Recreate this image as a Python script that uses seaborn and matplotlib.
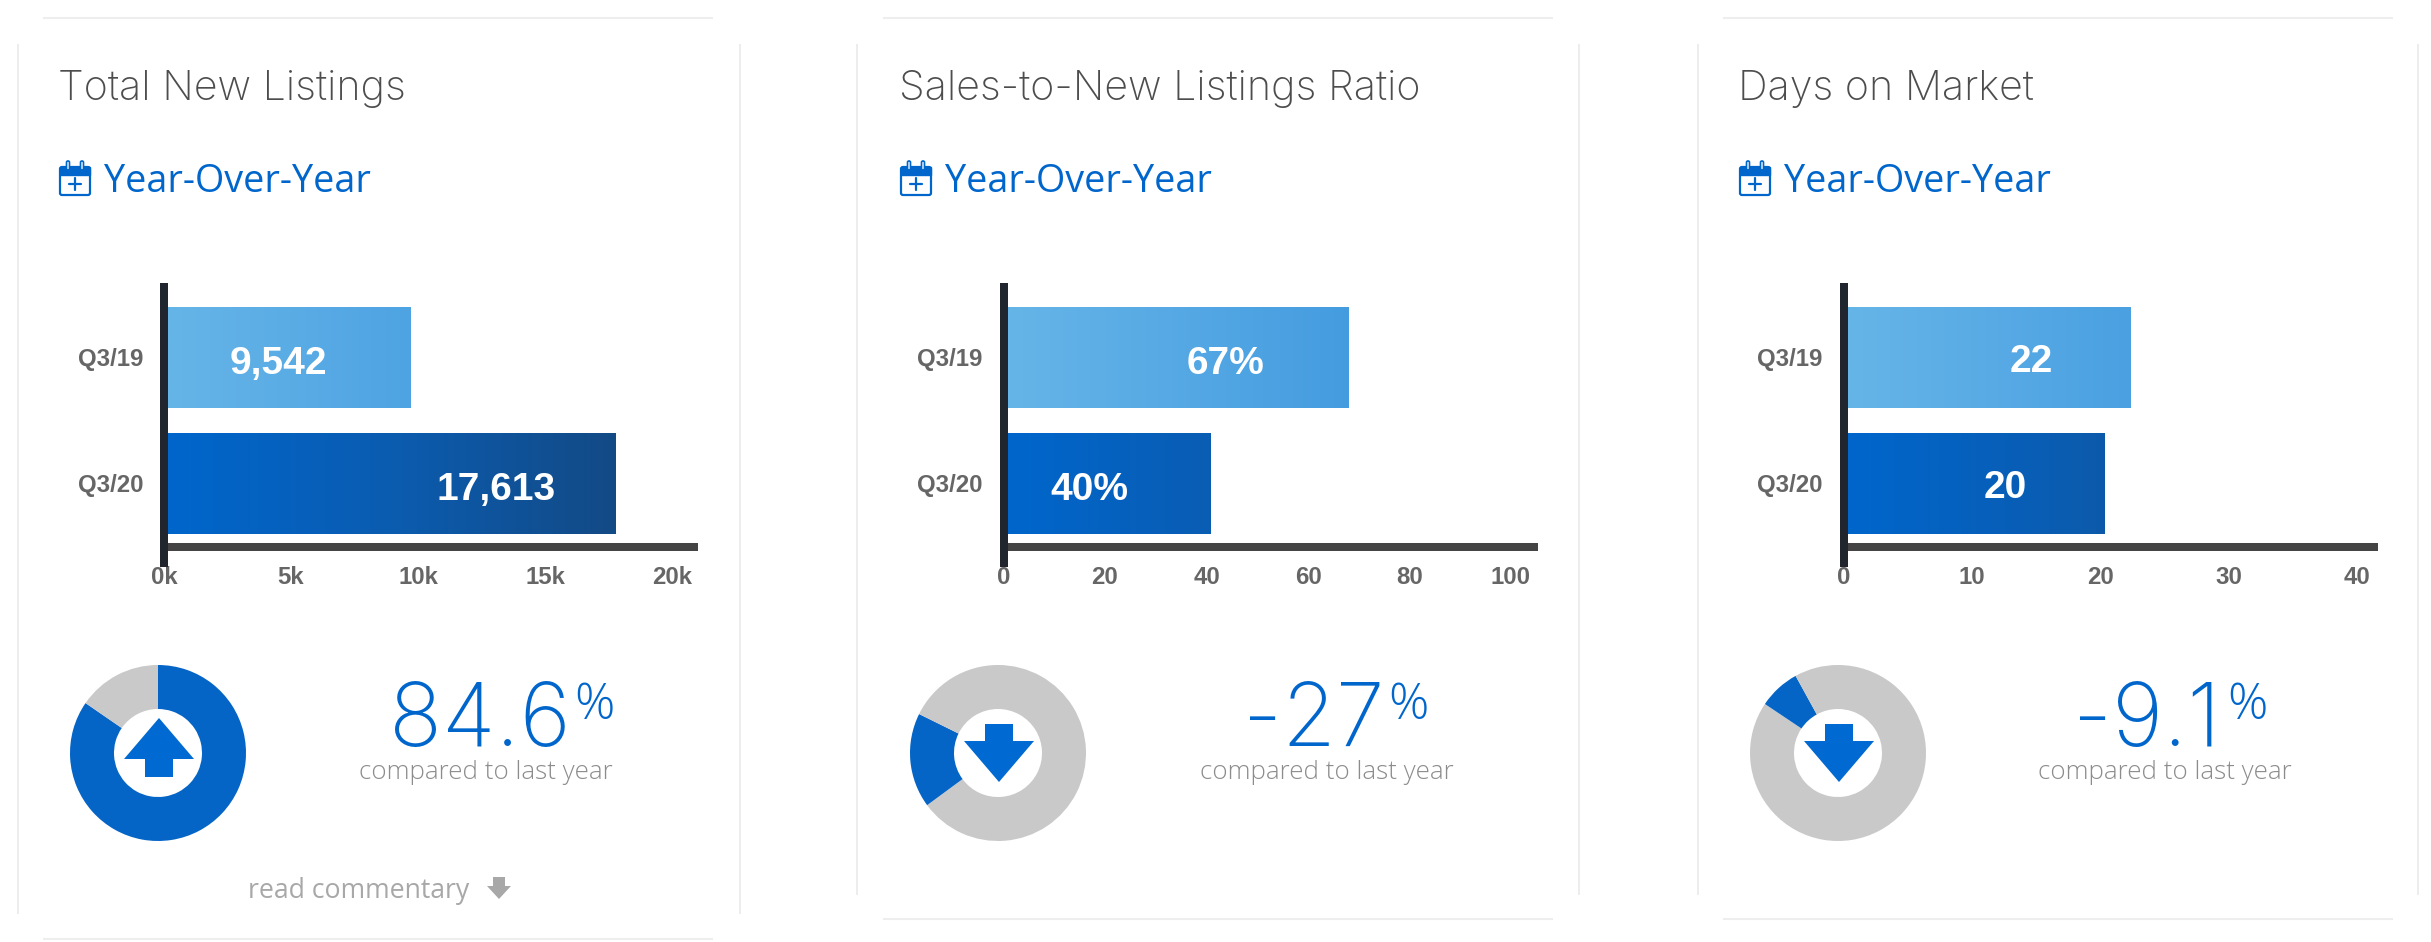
import numpy as np
import pandas as pd
import seaborn as sns
from matplotlib import pyplot as plt
from matplotlib.colors import LinearSegmentedColormap
from matplotlib.patches import FancyBboxPatch, Polygon, Rectangle
from matplotlib.transforms import ScaledTranslation

# chart values
quarters = ["Q3/19", "Q3/20"]
listings = [9542, 17613]
ratio = [67, 40]
days = [22, 20]

titles = ["Total New Listings", "Sales-to-New Listings Ratio", "Days on Market"]
bar_labels = [["9,542", "17,613"], ["67%", "40%"], ["22", "20"]]
change_labels = ["84.6", "-27", "-9.1"]
directions = ["up", "down", "down"]

tick_values = [[0, 5000, 10000, 15000, 20000], [0, 20, 40, 60, 80, 100], [0, 10, 20, 30, 40]]
tick_labels = [["0k", "5k", "10k", "15k", "20k"], ["0", "20", "40", "60", "80", "100"], ["0", "10", "20", "30", "40"]]

# donut slices, clockwise from the top
donut_shares = [[84.6, 15.4], [64.9, 17.4, 17.7], [84.4, 7.6, 8.0]]
donut_colors = [["blue", "grey"], ["grey", "blue", "grey"], ["grey", "blue", "grey"]]

# layout, all in pixels of the 2431x942 picture
W, H = 2431, 942
BLUE = "#0066cc"
DONUT_BLUE = "#0565c6"
GREY = "#c9c9c9"
panel_dx = [0, 841, 1680]
zero_x = [168, 1007.5, 1847.5]
axis_end = [698, 1538, 2378]
px_per_unit = [0.0254, 5.075, 12.84]
value_label_xy = [[(278, 364), (496, 490)], [(1226, 364), (1089, 490)], [(2031, 362), (2005, 488)]]
number_right = [571, 1384, 2220]
percent_left = [574, 1388, 2227]
compared_x = [486, 1327, 2165]
donut_x = [158, 998, 1838]
arrow_x = [159, 999, 1839]
hline_spans = [(43, 713, 939), (883, 1553, 919), (1723, 2393, 919)]
vline_spans = [(17.5, 740, 914), (857, 1579, 895), (1698, 2418, 895)]

light_cmap = LinearSegmentedColormap.from_list("light", ["#66b5e8", "#3a94dd"])
dark_cmap = LinearSegmentedColormap.from_list("dark", ["#0066cc", "#0b5cb0", "#134a85"])
GRAD_PX = 448

sns.set_style("white")
plt.rcParams["font.family"] = ["Liberation Sans", "DejaVu Sans"]
LIGHT = dict(family="Inter", weight="light")
SMALL_LIGHT = dict(family="Open Sans", weight="light")

fig = plt.figure(figsize=(W / 100, H / 100), dpi=100, facecolor="white")


def px_axes(left, top, right, bottom):
    return fig.add_axes([left / W, 1 - bottom / H, (right - left) / W, (bottom - top) / H])


# overlay for the card lines, texts and icons
over = fig.add_axes([0, 0, 1, 1], zorder=5)
over.set_xlim(0, W)
over.set_ylim(H, 0)
over.axis("off")

#BARS
for i, values in enumerate([listings, ratio, days]):
    df = pd.DataFrame({"quarter": quarters, "value": values})
    ax = px_axes(zero_x[i], 283, axis_end[i], 567)
    ax.patch.set_visible(False)
    sns.barplot(data=df, y="quarter", x="value", hue="quarter", palette=["#66b5e8", "#0066cc"],
                saturation=1, width=0.8, legend=False, ax=ax)

    xmax = (axis_end[i] - zero_x[i]) / px_per_unit[i]
    for patch, cmap in zip(ax.patches[:2], [light_cmap, dark_cmap]):
        x1 = patch.get_x() + patch.get_width()
        y0, y1 = patch.get_y(), patch.get_y() + patch.get_height()
        t_end = x1 * px_per_unit[i] / GRAD_PX
        grad = np.linspace(0, t_end, 256).reshape(1, -1)
        im = ax.imshow(grad, extent=(0, x1, y1, y0), aspect="auto", cmap=cmap, vmin=0, vmax=1, zorder=3)
        im.set_clip_path(patch)

    ax.set_xlim(0, xmax)
    ax.set_ylim(1.663, -0.591)
    ax.set_xlabel("")
    ax.set_ylabel("")
    ax.set_xticks(tick_values[i])
    ax.set_xticklabels(tick_labels[i])

    sns.despine(ax=ax, top=True, right=True)
    ax.spines["left"].set_position(("outward", 2.88))
    ax.spines["left"].set_linewidth(5.76)
    ax.spines["left"].set_color("#20252e")
    ax.spines["left"].set_capstyle("butt")
    ax.spines["bottom"].set_position(("axes", 20 / 284))
    ax.spines["bottom"].set_linewidth(5.76)
    ax.spines["bottom"].set_color("#444444")
    ax.spines["bottom"].set_capstyle("butt")
    ax.tick_params(axis="x", length=0, pad=14, labelsize=17.3, labelcolor="#666666")
    ax.tick_params(axis="y", length=0, pad=15, labelsize=17.3, labelcolor="#666666")
    for lab in ax.get_xticklabels() + ax.get_yticklabels():
        lab.set_fontweight("bold")
    shift = ScaledTranslation(-4 / 100, 0, fig.dpi_scale_trans)
    for lab in ax.get_xticklabels():
        lab.set_transform(lab.get_transform() + shift)

    for text, (x, y) in zip(bar_labels[i], value_label_xy[i]):
        over.text(x, y, text, color="white", fontsize=28, fontweight="bold", ha="center", va="center")

#DONUTS
for i, shares in enumerate(donut_shares):
    cx = donut_x[i]
    ax = px_axes(cx - 88, 665, cx + 88, 841)
    colors = [DONUT_BLUE if c == "blue" else GREY for c in donut_colors[i]]
    ax.pie(shares, colors=colors, startangle=90, counterclock=False, radius=1,
           wedgeprops=dict(width=0.5, linewidth=0))
    ax.set_xlim(-1, 1)
    ax.set_ylim(-1, 1)

    ax_x = arrow_x[i]
    if directions[i] == "up":
        pts = [(ax_x, 718), (ax_x + 35, 759), (ax_x + 14, 759), (ax_x + 14, 777),
               (ax_x - 14, 777), (ax_x - 14, 759), (ax_x - 35, 759)]
    else:
        pts = [(ax_x, 782), (ax_x + 35, 741), (ax_x + 14, 741), (ax_x + 14, 724),
               (ax_x - 14, 724), (ax_x - 14, 741), (ax_x - 35, 741)]
    over.add_patch(Polygon(pts, closed=True, facecolor="#0069d2", edgecolor="none"))

#TEXTS AND CARD LINES
for i in range(3):
    dx = panel_dx[i]
    over.text(58 + dx, 100, titles[i], color="#4d4d4d", fontsize=29.7, va="baseline", **LIGHT)
    over.text(104 + dx, 192, "Year-Over-Year", color=BLUE, fontsize=27.2, va="baseline",
              family="Open Sans")

    # calendar icon
    over.add_patch(FancyBboxPatch((60 + dx, 167), 30, 28, boxstyle="round,pad=0,rounding_size=2",
                                  facecolor="white", edgecolor=BLUE, linewidth=1.6))
    over.add_patch(Rectangle((60 + dx, 167), 30, 8, facecolor=BLUE, edgecolor=BLUE, linewidth=1))
    for ring in [68, 82]:
        over.add_patch(FancyBboxPatch((ring - 1.5 + dx, 161), 3, 9, boxstyle="round,pad=0,rounding_size=1.4",
                                      facecolor="white", edgecolor=BLUE, linewidth=1.2))
    over.plot([69 + dx, 81 + dx], [184, 184], color=BLUE, lw=1.6)
    over.plot([75 + dx, 75 + dx], [178, 190], color=BLUE, lw=1.6)

    over.text(number_right[i], 746, change_labels[i], color=BLUE, fontsize=63, ha="right", va="baseline",
              **LIGHT)
    over.text(percent_left[i], 719, "%", color=BLUE, fontsize=36, ha="left", va="baseline", **SMALL_LIGHT)
    over.text(compared_x[i], 779, "compared to last year", color="#8c8c8c", fontsize=18.7, ha="center",
              va="baseline", **SMALL_LIGHT)

    x0, x1, y = hline_spans[i]
    over.plot([x0, x1], [18, 18], color="#eeeeee", lw=1.5, solid_capstyle="butt")
    over.plot([x0, x1], [y, y], color="#eeeeee", lw=1.5, solid_capstyle="butt")
    xl, xr, yb = vline_spans[i]
    over.plot([xl, xl], [44, yb], color="#e8e8e8", lw=1.1, solid_capstyle="butt")
    over.plot([xr, xr], [44, yb], color="#e8e8e8", lw=1.1, solid_capstyle="butt")

over.text(248, 898, "read commentary", color="#a8a8a8", fontsize=19.2, va="baseline", family="Open Sans")
over.add_patch(Polygon([(499, 899), (511, 886), (505, 886), (505, 877), (493, 877), (493, 886), (487, 886)],
                       closed=True, facecolor="#a8a8a8", edgecolor="none"))

fig.savefig("out.png", dpi=100)
